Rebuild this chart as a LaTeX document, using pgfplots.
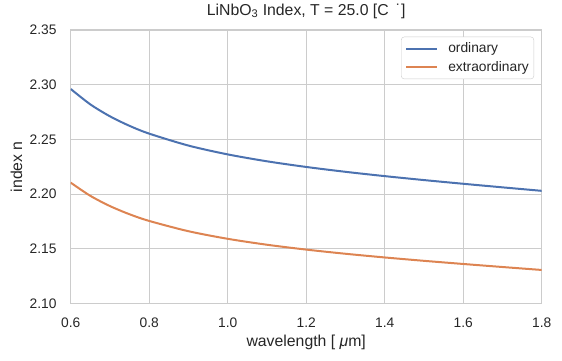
\documentclass[border=0pt]{standalone}
\usepackage{fontspec}
\setmainfont{Liberation Sans}
\usepackage{pgfplots}
\pgfplotsset{compat=1.18}
\definecolor{sbblue}{HTML}{4C72B0}
\definecolor{sborange}{HTML}{DD8452}
\definecolor{gridc}{HTML}{CCCCCC}
\definecolor{textc}{HTML}{262626}
\begin{document}
\begin{tikzpicture}
\path[use as bounding box] (-70.7pt,-56.5pt) rectangle (491.3pt,303.5pt);
\begin{axis}[
  at={(0pt,0pt)}, anchor=south west,
  scale only axis, width=471pt, height=273.5pt,
  xmin=0.6, xmax=1.8, ymin=2.10, ymax=2.35,
  xtick={0.6,0.8,1.0,1.2,1.4,1.6,1.8},
  xticklabels={0.6,0.8,1.0,1.2,1.4,1.6,1.8},
  ytick={2.10,2.15,2.20,2.25,2.30,2.35},
  yticklabels={2.10,2.15,2.20,2.25,2.30,2.35},
  major tick length=0pt,
  grid=major,
  major grid style={draw=gridc, line width=1pt},
  axis line style={draw=gridc, line width=1.25pt},
  tick label style={font=\fontsize{13.8}{16}\selectfont, text=textc, inner sep=0pt},
  xticklabel style={anchor=north, yshift=-14.5pt},
  yticklabel style={anchor=east, xshift=-14pt},
  title={LiNbO\textsubscript{3} Index, T = 25.0 [C\, ˙]},
  title style={font=\fontsize{15.8}{18}\selectfont, text=textc, at={(axis description cs:0.5,1.0329)}, anchor=base, inner sep=0pt},
  xlabel={wavelength [ {\itshape μ}m]},
  xlabel style={font=\fontsize{15.8}{18}\selectfont, text=textc, at={(axis description cs:0.5,-0.159)}, anchor=base, inner sep=0pt},
  ylabel={index n},
  ylabel style={font=\fontsize{15.8}{18}\selectfont, text=textc, at={(axis description cs:-0.1034,0.5)}, anchor=base, rotate=0, inner sep=0pt},
  legend cell align=left,
  legend style={at={(axis description cs:0.9837,0.9755)}, anchor=north east,
    draw=gridc, fill=white, rounded corners=3pt,
    font=\fontsize{13.8}{16}\selectfont, text=textc,
    inner xsep=4pt, inner ysep=5pt, row sep=5pt, column sep=9pt,
    nodes={inner sep=1pt}},
  legend image code/.code={\draw[#1, line width=2pt] (0pt,0pt) -- (31pt,0pt);},
]
\addplot[sbblue, line width=2pt, smooth] coordinates {
(0.60,2.29612) (0.65,2.28203) (0.70,2.27110) (0.75,2.26238) (0.80,2.25528)
(0.90,2.24436) (1.00,2.23630) (1.10,2.22999) (1.20,2.22482) (1.30,2.22038)
(1.40,2.21644) (1.50,2.21283) (1.60,2.20944) (1.70,2.20618) (1.80,2.20299)};
\addlegendentry{ordinary}
\addplot[sborange, line width=2pt, smooth] coordinates {
(0.60,2.21048) (0.65,2.19843) (0.70,2.18906) (0.75,2.18157) (0.80,2.17547)
(0.90,2.16608) (1.00,2.15914) (1.10,2.15372) (1.20,2.14928) (1.30,2.14547)
(1.40,2.14210) (1.50,2.13902) (1.60,2.13614) (1.70,2.13336) (1.80,2.13066)};
\addlegendentry{extraordinary}
\end{axis}
\end{tikzpicture}
\end{document}
